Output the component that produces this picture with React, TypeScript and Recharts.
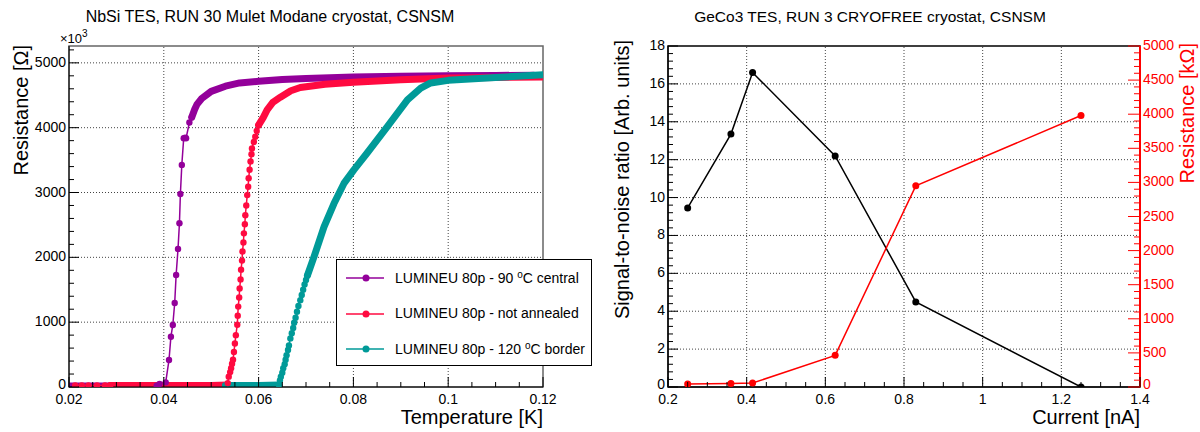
import React from "react";
import {
  LineChart,
  Line,
  XAxis,
  YAxis,
  ReferenceLine,
  ReferenceArea,
} from "recharts";

const FONT = "'Liberation Sans', Arial, Helvetica, sans-serif";

// ---- NbSi TES (left panel), temperature [K] vs resistance [x10^3 Ohm]
const purpleBase = [[0.02, 15], [0.03, 15], [0.0385, 20]];
const purpleSteep = [
  [0.0385, 20], [0.0391, 46], [0.0404, 72], [0.0411, 417], [0.0415, 776],
  [0.0419, 957], [0.0423, 1296], [0.0426, 1728], [0.043, 2130], [0.0433, 2526],
  [0.0435, 2978], [0.0438, 3426], [0.0442, 3838], [0.0445, 3845], [0.0447, 3838],
  [0.0454, 4080], [0.0459, 4162],
];
const purplePlateau = [
  [0.0459, 4162], [0.0465, 4280], [0.047, 4360], [0.048, 4450], [0.05, 4560],
  [0.053, 4640], [0.056, 4690], [0.06, 4715], [0.065, 4745], [0.07, 4760],
  [0.08, 4780], [0.09, 4792], [0.1, 4800], [0.11, 4805], [0.118, 4810],
];

const redBase = [[0.0287, 25], [0.04, 25], [0.05, 25], [0.0535, 30]];
const redSteep = [
  [0.0213, 25], [0.0227, 25], [0.0241, 25], [0.0259, 25], [0.0276, 25], [0.0287, 25],
  [0.0535, 60], [0.0537, 160], [0.054, 230], [0.0542, 290], [0.0544, 360],
  [0.0546, 420], [0.0548, 540], [0.055, 670], [0.0552, 800], [0.0555, 960],
  [0.0556, 1100], [0.0557, 1240], [0.0559, 1380], [0.056, 1520], [0.0562, 1660],
  [0.0563, 1810], [0.0565, 1950], [0.0566, 2090], [0.0568, 2230], [0.0569, 2370],
  [0.0571, 2510], [0.0572, 2650], [0.0574, 2800], [0.0576, 2960], [0.0578, 3090],
  [0.0579, 3220], [0.0581, 3350], [0.0583, 3480], [0.0585, 3590], [0.0586, 3680],
  [0.059, 3780], [0.0593, 3860], [0.0596, 3950], [0.06, 4040],
];
const redPlateau = [
  [0.06, 4040], [0.061, 4160], [0.0618, 4275], [0.063, 4390], [0.0646, 4470],
  [0.0668, 4570], [0.0688, 4620], [0.074, 4670], [0.08, 4700], [0.09, 4740],
  [0.1, 4765], [0.11, 4775], [0.12, 4780],
];

const tealBase = [[0.053, 25], [0.06, 25], [0.0643, 30]];
const tealSteep = [
  [0.0643, 30], [0.0645, 100], [0.0647, 160], [0.065, 220], [0.0652, 290],
  [0.0655, 350], [0.0657, 420], [0.0659, 490], [0.0662, 570], [0.0664, 640],
  [0.0667, 750], [0.067, 830], [0.0673, 910], [0.0675, 990], [0.0678, 1070],
  [0.0681, 1160], [0.0684, 1250], [0.0688, 1340], [0.0691, 1420], [0.0694, 1500],
  [0.0697, 1580], [0.07, 1650], [0.0703, 1720],
];
const tealPlateau = [
  [0.0703, 1720], [0.0717, 2010], [0.0738, 2470], [0.0759, 2830], [0.078, 3140],
  [0.0801, 3350], [0.0829, 3610], [0.0872, 4020], [0.0914, 4430], [0.0942, 4610],
  [0.0963, 4690], [0.1, 4730], [0.1027, 4745], [0.11, 4775], [0.12, 4815],
];

const seriesNames = [
  "LUMINEU 80p - 90 \u00B0C central",
  "LUMINEU 80p - not annealed",
  "LUMINEU 80p - 120 \u00B0C border",
];
const PURPLE = "#93009a";
const RED = "#ff0a40";
const TEAL = "#009a98";
const seriesColors = [PURPLE, RED, TEAL];

// ---- GeCo3 TES (right panel)
const current = [0.25, 0.36, 0.415, 0.625, 0.83, 1.25];
const snr = [9.45, 13.35, 16.6, 12.2, 4.49, 0.0];
const resistance = [43, 53, 58, 464, 2950, 3980];

// ---- ticks
const steps = (a: number, b: number, s: number) => {
  const out: number[] = [];
  for (let v = a; v <= b + s * 1e-6; v += s) out.push(Math.round(v * 1e6) / 1e6);
  return out;
};
const leftXMajor = [0.02, 0.04, 0.06, 0.08, 0.1, 0.12];
const leftXTicks = steps(0.02, 0.12, 0.005);
const leftYMajor = [0, 1000, 2000, 3000, 4000, 5000];
const leftYTicks = steps(0, 5200, 200);
const rightXMajor = [0.2, 0.4, 0.6, 0.8, 1, 1.2, 1.4];
const rightXTicks = steps(0.2, 1.4, 0.05);
const snrMajor = [0, 2, 4, 6, 8, 10, 12, 14, 16, 18];
const snrTicks = steps(0, 18, 0.4);
const resMajor = [0, 500, 1000, 1500, 2000, 2500, 3000, 3500, 4000, 4500, 5000];
const resTicks = steps(0, 5000, 100);

const toPts = (a: number[][]) => a.map(([t, r]) => ({ t, r }));
const rightPts = current.map((c, i) => ({ c, snr: snr[i], res: resistance[i] }));

const isMajor = (majors: number[], v: number) =>
  majors.some((m) => Math.abs(m - v) < 1e-7);

function BottomTick(props: any) {
  const { x, y, payload, majors, color = "#000" } = props;
  const major = isMajor(majors, payload.value);
  return (
    <g>
      <line x1={x} x2={x} y1={y} y2={y - (major ? 10 : 5)} stroke={color} />
      {major && (
        <text x={x} y={y + 17} textAnchor="middle" fontSize={14} fontFamily={FONT} fill="#000">
          {String(payload.value)}
        </text>
      )}
    </g>
  );
}

function LeftTick(props: any) {
  const { x, y, payload, majors } = props;
  const major = isMajor(majors, payload.value);
  return (
    <g>
      <line x1={x} x2={x + (major ? 10 : 5)} y1={y} y2={y} stroke="#000" />
      {major && (
        <text x={x - 3} y={y + (payload.value === 0 ? 2 : 4)} textAnchor="end" fontSize={14} fontFamily={FONT} fill="#000">
          {String(payload.value)}
        </text>
      )}
    </g>
  );
}

function RightTick(props: any) {
  const { x, y, payload, majors } = props;
  const major = isMajor(majors, payload.value);
  return (
    <g>
      <line x1={x} x2={x - (major ? 12 : 6)} y1={y} y2={y} stroke="#ff0000" />
      {major && (
        <text x={x + 3} y={y + (payload.value === 0 ? 2 : 4)} textAnchor="start" fontSize={14} fontFamily={FONT} fill="#ff0000">
          {String(payload.value)}
        </text>
      )}
    </g>
  );
}

function LegendBox() {
  return (
    <div
      style={{
        position: "absolute",
        left: 336,
        top: 259,
        width: 256,
        height: 107,
        border: "1px solid #000",
        background: "#ffffff",
        boxSizing: "border-box",
        fontFamily: FONT,
        fontSize: 14,
        zIndex: 1000,
      }}
    >
      {seriesNames.map((name, i) => {
        const [before, after] = name.split("\u00B0C");
        return (
          <div
            key={name}
            style={{ position: "absolute", left: 0, top: 8 + i * 35.5, height: 20, width: 254 }}
          >
            <svg width={50} height={20} style={{ position: "absolute", left: 0, top: 0 }}>
              <line x1={9} x2={47} y1={10} y2={10} stroke={seriesColors[i]} strokeWidth={1.5} />
              <circle cx={29} cy={10} r={3.5} fill={seriesColors[i]} />
            </svg>
            <span style={{ position: "absolute", left: 58, top: 1, whiteSpace: "nowrap", color: "#000" }}>
              {before}
              {after !== undefined && (
                <>
                  <span style={{ fontSize: 10, verticalAlign: "5px" }}>o</span>C{after}
                </>
              )}
            </span>
          </div>
        );
      })}
    </div>
  );
}

export default function App() {
  const gridStyle = { stroke: "#444", strokeDasharray: "1 2", strokeWidth: 1 };
  const thick = { strokeWidth: 7, strokeLinecap: "round" as const, strokeLinejoin: "round" as const };
  return (
    <div
      style={{
        position: "fixed",
        left: 0,
        top: 0,
        width: 1200,
        height: 432,
        background: "#fff",
        fontFamily: FONT,
      }}
    >
      {/* left panel */}
      <div style={{ position: "absolute", left: 0, top: 0, zIndex: 1 }}>
        <LineChart width={600} height={432} margin={{ top: 46, right: 57, bottom: 0, left: 0 }}>
          <XAxis
            type="number"
            dataKey="t"
            domain={[0.02, 0.12]}
            ticks={leftXTicks}
            interval={0}
            tickSize={0}
            tickMargin={0}
            height={45}
            allowDataOverflow
            axisLine={{ stroke: "#000" }}
            tickLine={false}
            tick={(p: any) => <BottomTick {...p} majors={leftXMajor} />}
          />
          <YAxis
            type="number"
            dataKey="r"
            domain={[0, 5260]}
            ticks={leftYTicks}
            interval={0}
            tickSize={0}
            tickMargin={0}
            width={69}
            allowDataOverflow
            axisLine={{ stroke: "#000" }}
            tickLine={false}
            tick={(p: any) => <LeftTick {...p} majors={leftYMajor} />}
          />
          {leftXMajor.slice(1, -1).map((v) => (
            <ReferenceLine key={"gx" + v} x={v} {...gridStyle} />
          ))}
          {leftYMajor.slice(1).map((v) => (
            <ReferenceLine key={"gy" + v} y={v} {...gridStyle} />
          ))}
          <ReferenceArea x1={0.02} x2={0.12} y1={0} y2={5260} fill="none" stroke="#666" strokeWidth={1.5} />
          <Line data={toPts(purpleBase)} dataKey="r" stroke={PURPLE} {...thick} dot={false} isAnimationActive={false} />
          <Line data={toPts(purplePlateau)} dataKey="r" stroke={PURPLE} {...thick} dot={false} isAnimationActive={false} />
          <Line
            data={toPts(purpleSteep)}
            dataKey="r"
            name={seriesNames[0]}
            stroke={PURPLE}
            strokeWidth={1.5}
            dot={{ r: 3.2, fill: PURPLE, stroke: PURPLE, strokeWidth: 0 }}
            isAnimationActive={false}
          />
          <Line data={toPts(redBase)} dataKey="r" stroke={RED} {...thick} dot={false} isAnimationActive={false} />
          <Line data={toPts(redPlateau)} dataKey="r" stroke={RED} {...thick} dot={false} isAnimationActive={false} />
          <Line
            data={toPts(redSteep)}
            dataKey="r"
            name={seriesNames[1]}
            stroke={RED}
            strokeWidth={1.5}
            dot={{ r: 3.2, fill: RED, stroke: RED, strokeWidth: 0 }}
            isAnimationActive={false}
          />
          <Line data={toPts(tealBase)} dataKey="r" stroke={TEAL} {...thick} dot={false} isAnimationActive={false} />
          <Line data={toPts(tealPlateau)} dataKey="r" stroke={TEAL} {...thick} dot={false} isAnimationActive={false} />
          <Line
            data={toPts(tealSteep)}
            dataKey="r"
            name={seriesNames[2]}
            stroke={TEAL}
            strokeWidth={1.5}
            dot={{ r: 3.2, fill: TEAL, stroke: TEAL, strokeWidth: 0 }}
            isAnimationActive={false}
          />
        </LineChart>
      </div>

      {/* right panel */}
      <div style={{ position: "absolute", left: 600, top: 0, zIndex: 1 }}>
        <LineChart width={600} height={432} data={rightPts} margin={{ top: 46, right: 0, bottom: 0, left: 0 }}>
          <XAxis
            type="number"
            dataKey="c"
            domain={[0.2, 1.4]}
            ticks={rightXTicks}
            interval={0}
            tickSize={0}
            tickMargin={0}
            height={45}
            allowDataOverflow
            axisLine={{ stroke: "#000" }}
            tickLine={false}
            tick={(p: any) => <BottomTick {...p} majors={rightXMajor} />}
          />
          <YAxis
            yAxisId="snr"
            type="number"
            domain={[0, 18]}
            ticks={snrTicks}
            interval={0}
            tickSize={0}
            tickMargin={0}
            width={68}
            allowDataOverflow
            axisLine={{ stroke: "#000" }}
            tickLine={false}
            tick={(p: any) => <LeftTick {...p} majors={snrMajor} />}
          />
          <YAxis
            yAxisId="res"
            orientation="right"
            type="number"
            domain={[0, 5000]}
            ticks={resTicks}
            interval={0}
            tickSize={0}
            tickMargin={0}
            width={60}
            allowDataOverflow
            axisLine={false}
            tickLine={false}
            tick={(p: any) => <RightTick {...p} majors={resMajor} />}
          />
          {rightXMajor.slice(1, -1).map((v) => (
            <ReferenceLine key={"rx" + v} yAxisId="snr" x={v} {...gridStyle} />
          ))}
          {snrMajor.slice(1, -1).map((v) => (
            <ReferenceLine key={"ry" + v} yAxisId="snr" y={v} {...gridStyle} />
          ))}
          <ReferenceArea yAxisId="snr" x1={0.2} x2={1.4} y1={0} y2={18} fill="none" stroke="#000" strokeWidth={1.5} />
          <ReferenceLine yAxisId="snr" x={1.4} stroke="#ff0000" strokeWidth={2} />
          <Line
            yAxisId="snr"
            dataKey="snr"
            stroke="#000"
            strokeWidth={1.5}
            dot={{ r: 3.5, fill: "#000", stroke: "#000", strokeWidth: 0 }}
            isAnimationActive={false}
          />
          <Line
            yAxisId="res"
            dataKey="res"
            stroke="#ff0000"
            strokeWidth={1.5}
            dot={{ r: 3.5, fill: "#ff0000", stroke: "#ff0000", strokeWidth: 0 }}
            isAnimationActive={false}
          />
        </LineChart>
      </div>

      <LegendBox />

      {/* titles and axis titles */}
      <svg
        width={1200}
        height={432}
        style={{ position: "absolute", left: 0, top: 0, pointerEvents: "none", zIndex: 1001 }}
        fontFamily={FONT}
      >
        <text x={270} y={22} textAnchor="middle" fontSize={16}>
          NbSi TES, RUN 30 Mulet Modane cryostat, CSNSM
        </text>
        <text x={870} y={22} textAnchor="middle" fontSize={15.5}>
          GeCo3 TES, RUN 3 CRYOFREE cryostat, CSNSM
        </text>
        <text x={60} y={43} fontSize={13}>
          {"\u00D710"}
          <tspan dy={-6} fontSize={10}>3</tspan>
        </text>
        <text transform="translate(28,45) rotate(-90)" textAnchor="end" fontSize={20}>
          Resistance [Ω]
        </text>
        <text x={543} y={424} textAnchor="end" fontSize={20}>
          Temperature [K]
        </text>
        <text transform="translate(629,40) rotate(-90)" textAnchor="end" fontSize={20}>
          Signal-to-noise ratio [Arb. units]
        </text>
        <text transform="translate(1194,43) rotate(-90)" textAnchor="end" fontSize={20} fill="#ff0000">
          Resistance [kΩ]
        </text>
        <text x={1140} y={424} textAnchor="end" fontSize={20}>
          Current [nA]
        </text>
      </svg>
    </div>
  );
}
